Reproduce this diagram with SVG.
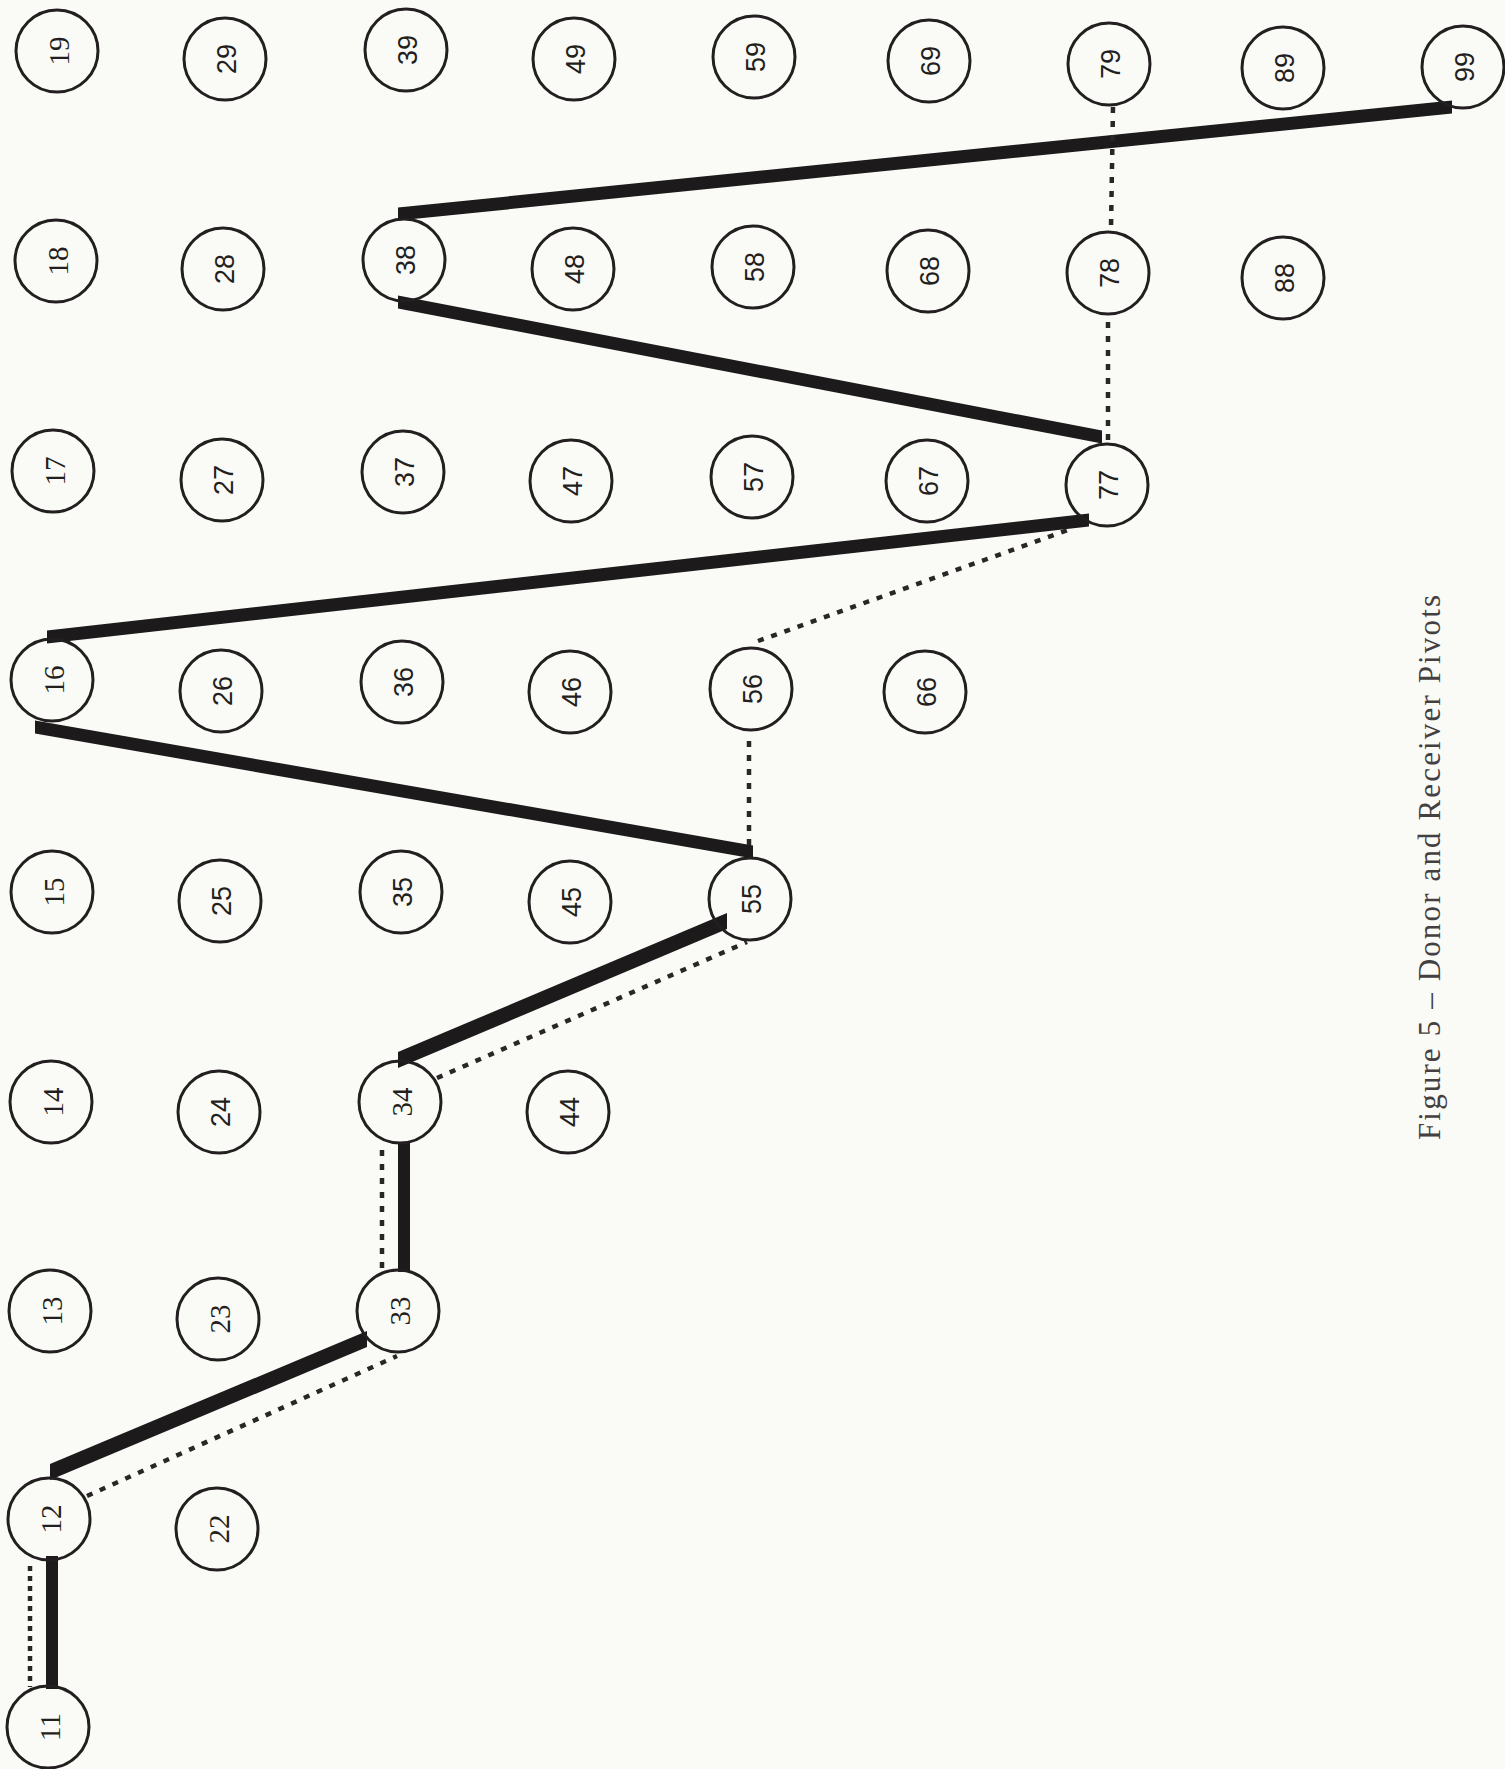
<svg xmlns="http://www.w3.org/2000/svg" width="1505" height="1769" viewBox="0 0 1505 1769">
<style>
  .bg { fill: #fafbf7; }
  .node circle { fill: none; stroke: #231f20; stroke-width: 3; }
  .node text { font-family: "Liberation Sans", Arial, sans-serif; font-size: 27px; fill: #231f20; text-anchor: middle; dominant-baseline: central; }
  .node text.s { font-family: "Liberation Serif", "Times New Roman", serif; font-size: 29px; }
  .thick { fill: #1c1a1a; stroke: none; }
  .dot { fill: none; stroke: #2a2627; stroke-width: 4.5; stroke-dasharray: 6 8; }
  .dot.dense { stroke-dasharray: 5 5; }
  .title { font-family: "Liberation Serif", "Times New Roman", serif; font-size: 31px; fill: #444041; }
</style>
<rect class="bg" x="0" y="0" width="1505" height="1769"/>

<g id="connectors">
  <rect class="thick" x="46" y="1556" width="12" height="133"/>
  <polygon class="thick" points="50,1464 367,1331 367,1347 50,1480"/>
  <rect class="thick" x="398" y="1142" width="12" height="130"/>
  <polygon class="thick" points="398,1052 727,913 727,929 398,1068"/>
  <polygon class="thick" points="35,720.5 753,845.5 753,858.5 35,733.5"/>
  <polygon class="thick" points="47,630.5 1089,513.5 1089,526.5 47,643.5"/>
  <polygon class="thick" points="398,295.5 1102,430.5 1102,443.5 398,308.5"/>
  <polygon class="thick" points="398,207.5 1452,100.5 1452,113.5 398,220.5"/>

  <line class="dot dense" x1="30" y1="1566" x2="30" y2="1687"/>
  <line class="dot" x1="87" y1="1496" x2="397" y2="1356"/>
  <line class="dot" x1="382" y1="1150" x2="382" y2="1270"/>
  <line class="dot" x1="437" y1="1078" x2="747" y2="942"/>
  <line class="dot" x1="749" y1="741" x2="749" y2="850"/>
  <line class="dot" x1="758" y1="641" x2="1068" y2="530"/>
  <line class="dot" x1="1108" y1="322" x2="1108" y2="444"/>
  <line class="dot" x1="1113" y1="107" x2="1111" y2="228"/>
</g>

<g id="n19" class="node"><circle cx="57" cy="51" r="41"/><text class="s" transform="translate(59,51) rotate(-90)">19</text></g>
<g id="n29" class="node"><circle cx="225" cy="59" r="41"/><text transform="translate(227,59) rotate(-90)">29</text></g>
<g id="n39" class="node"><circle cx="406" cy="50" r="41"/><text transform="translate(408,50) rotate(-90)">39</text></g>
<g id="n49" class="node"><circle cx="574" cy="59" r="41"/><text transform="translate(576,59) rotate(-90)">49</text></g>
<g id="n59" class="node"><circle cx="754" cy="57" r="41"/><text transform="translate(756,57) rotate(-90)">59</text></g>
<g id="n69" class="node"><circle cx="929" cy="61" r="41"/><text transform="translate(931,61) rotate(-90)">69</text></g>
<g id="n79" class="node"><circle cx="1109" cy="64" r="41"/><text transform="translate(1111,64) rotate(-90)">79</text></g>
<g id="n89" class="node"><circle cx="1283" cy="68" r="41"/><text transform="translate(1285,68) rotate(-90)">89</text></g>
<g id="n99" class="node"><circle cx="1463" cy="67" r="41"/><text transform="translate(1465,67) rotate(-90)">99</text></g>

<g id="n18" class="node"><circle cx="56" cy="261" r="41"/><text class="s" transform="translate(58,261) rotate(-90)">18</text></g>
<g id="n28" class="node"><circle cx="223" cy="269" r="41"/><text transform="translate(225,269) rotate(-90)">28</text></g>
<g id="n38" class="node"><circle cx="404" cy="260" r="41"/><text transform="translate(406,260) rotate(-90)">38</text></g>
<g id="n48" class="node"><circle cx="573" cy="269" r="41"/><text transform="translate(575,269) rotate(-90)">48</text></g>
<g id="n58" class="node"><circle cx="753" cy="267" r="41"/><text transform="translate(755,267) rotate(-90)">58</text></g>
<g id="n68" class="node"><circle cx="928" cy="271" r="41"/><text transform="translate(930,271) rotate(-90)">68</text></g>
<g id="n78" class="node"><circle cx="1108" cy="273" r="41"/><text transform="translate(1110,273) rotate(-90)">78</text></g>
<g id="n88" class="node"><circle cx="1283" cy="278" r="41"/><text transform="translate(1285,278) rotate(-90)">88</text></g>

<g id="n17" class="node"><circle cx="53" cy="471" r="41"/><text class="s" transform="translate(55,471) rotate(-90)">17</text></g>
<g id="n27" class="node"><circle cx="222" cy="480" r="41"/><text transform="translate(224,480) rotate(-90)">27</text></g>
<g id="n37" class="node"><circle cx="403" cy="472" r="41"/><text transform="translate(405,472) rotate(-90)">37</text></g>
<g id="n47" class="node"><circle cx="571" cy="481" r="41"/><text transform="translate(573,481) rotate(-90)">47</text></g>
<g id="n57" class="node"><circle cx="752" cy="477" r="41"/><text transform="translate(754,477) rotate(-90)">57</text></g>
<g id="n67" class="node"><circle cx="927" cy="481" r="41"/><text transform="translate(929,481) rotate(-90)">67</text></g>
<g id="n77" class="node"><circle cx="1107" cy="485" r="41"/><text transform="translate(1109,485) rotate(-90)">77</text></g>

<g id="n16" class="node"><circle cx="52" cy="680" r="41"/><text class="s" transform="translate(54,680) rotate(-90)">16</text></g>
<g id="n26" class="node"><circle cx="221" cy="691" r="41"/><text transform="translate(223,691) rotate(-90)">26</text></g>
<g id="n36" class="node"><circle cx="402" cy="682" r="41"/><text transform="translate(404,682) rotate(-90)">36</text></g>
<g id="n46" class="node"><circle cx="570" cy="692" r="41"/><text transform="translate(572,692) rotate(-90)">46</text></g>
<g id="n56" class="node"><circle cx="751" cy="689" r="41"/><text transform="translate(753,689) rotate(-90)">56</text></g>
<g id="n66" class="node"><circle cx="925" cy="692" r="41"/><text transform="translate(927,692) rotate(-90)">66</text></g>

<g id="n15" class="node"><circle cx="52" cy="892" r="41"/><text class="s" transform="translate(54,892) rotate(-90)">15</text></g>
<g id="n25" class="node"><circle cx="220" cy="901" r="41"/><text transform="translate(222,901) rotate(-90)">25</text></g>
<g id="n35" class="node"><circle cx="401" cy="892" r="41"/><text transform="translate(403,892) rotate(-90)">35</text></g>
<g id="n45" class="node"><circle cx="570" cy="902" r="41"/><text transform="translate(572,902) rotate(-90)">45</text></g>
<g id="n55" class="node"><circle cx="750" cy="899" r="41"/><text transform="translate(752,899) rotate(-90)">55</text></g>

<g id="n14" class="node"><circle cx="51" cy="1102" r="41"/><text class="s" transform="translate(53,1102) rotate(-90)">14</text></g>
<g id="n24" class="node"><circle cx="219" cy="1112" r="41"/><text transform="translate(221,1112) rotate(-90)">24</text></g>
<g id="n34" class="node"><circle cx="400" cy="1102" r="41"/><text class="s" transform="translate(402,1102) rotate(-90)">34</text></g>
<g id="n44" class="node"><circle cx="568" cy="1112" r="41"/><text transform="translate(570,1112) rotate(-90)">44</text></g>

<g id="n13" class="node"><circle cx="50" cy="1311" r="41"/><text class="s" transform="translate(52,1311) rotate(-90)">13</text></g>
<g id="n23" class="node"><circle cx="218" cy="1319" r="41"/><text class="s" transform="translate(220,1319) rotate(-90)">23</text></g>
<g id="n33" class="node"><circle cx="398" cy="1311" r="41"/><text class="s" transform="translate(400,1311) rotate(-90)">33</text></g>

<g id="n12" class="node"><circle cx="49" cy="1519" r="41"/><text class="s" transform="translate(51,1519) rotate(-90)">12</text></g>
<g id="n22" class="node"><circle cx="217" cy="1529" r="41"/><text class="s" transform="translate(219,1529) rotate(-90)">22</text></g>

<g id="n11" class="node"><circle cx="48" cy="1727" r="41"/><text class="s" transform="translate(50,1727) rotate(-90)">11</text></g>

<text class="title" transform="translate(1440,1140) rotate(-90)" textLength="545" lengthAdjust="spacing">Figure 5 – Donor and Receiver Pivots</text>
</svg>
